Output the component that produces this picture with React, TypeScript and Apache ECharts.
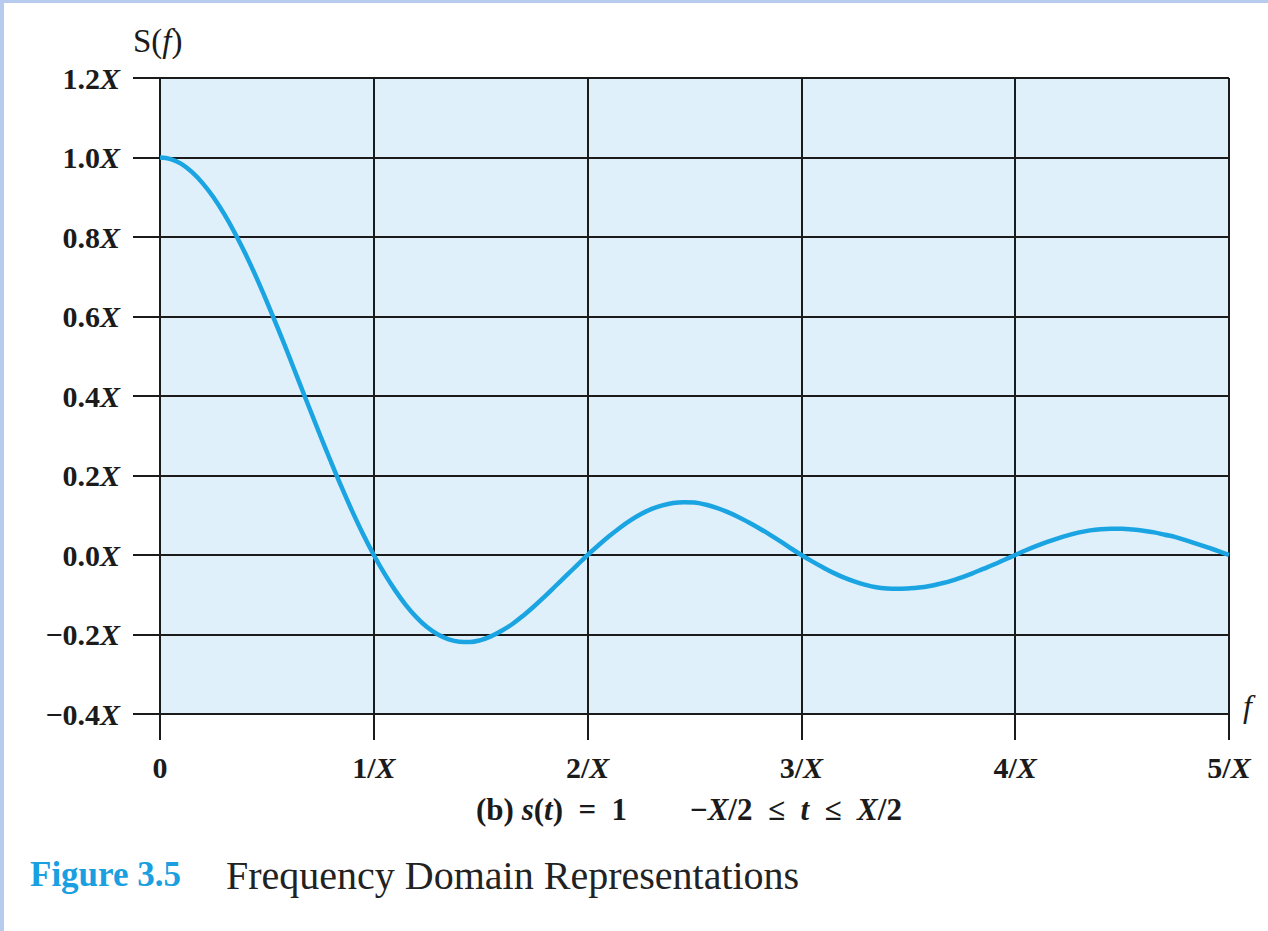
import React, { useEffect, useRef } from "react";
import * as echarts from "echarts";

const freq = [
  0.0, 0.05, 0.1, 0.15, 0.2, 0.25, 0.3, 0.35, 0.4, 0.45,
  0.5, 0.55, 0.6, 0.65, 0.7, 0.75, 0.8, 0.85, 0.9, 0.95,
  1.0, 1.05, 1.1, 1.15, 1.2, 1.25, 1.3, 1.35, 1.4, 1.45,
  1.5, 1.55, 1.6, 1.65, 1.7, 1.75, 1.8, 1.85, 1.9, 1.95,
  2.0, 2.05, 2.1, 2.15, 2.2, 2.25, 2.3, 2.35, 2.4, 2.45,
  2.5, 2.55, 2.6, 2.65, 2.7, 2.75, 2.8, 2.85, 2.9, 2.95,
  3.0, 3.05, 3.1, 3.15, 3.2, 3.25, 3.3, 3.35, 3.4, 3.45,
  3.5, 3.55, 3.6, 3.65, 3.7, 3.75, 3.8, 3.85, 3.9, 3.95,
  4.0, 4.05, 4.1, 4.15, 4.2, 4.25, 4.3, 4.35, 4.4, 4.45,
  4.5, 4.55, 4.6, 4.65, 4.7, 4.75, 4.8, 4.85, 4.9, 4.95, 5.0,
];
const amplitude = [
  1.0, 0.996, 0.984, 0.963, 0.935, 0.9, 0.858, 0.81, 0.757, 0.699,
  0.637, 0.572, 0.505, 0.436, 0.368, 0.3, 0.234, 0.17, 0.109, 0.052,
  0.0, -0.047, -0.089, -0.126, -0.157, -0.182, -0.2, -0.212, -0.218, -0.219,
  -0.214, -0.204, -0.19, -0.173, -0.152, -0.129, -0.104, -0.078, -0.052, -0.026,
  0.0, 0.024, 0.047, 0.068, 0.087, 0.103, 0.116, 0.125, 0.131, 0.133,
  0.132, 0.127, 0.119, 0.109, 0.097, 0.083, 0.068, 0.052, 0.035, 0.017,
  0.0, -0.016, -0.031, -0.045, -0.057, -0.067, -0.075, -0.081, -0.084, -0.085,
  -0.084, -0.082, -0.078, -0.072, -0.065, -0.056, -0.046, -0.035, -0.024, -0.012,
  0.0, 0.012, 0.023, 0.033, 0.042, 0.05, 0.057, 0.062, 0.065, 0.066,
  0.066, 0.064, 0.061, 0.057, 0.051, 0.045, 0.037, 0.028, 0.019, 0.01, 0.0,
];
const yTicks = [-0.4, -0.2, 0.0, 0.2, 0.4, 0.6, 0.8, 1.0, 1.2];
const xTicks = [0, 1, 2, 3, 4, 5];

const SERIF = "'Liberation Serif', 'DejaVu Serif', serif";
const INK = "#1b1b1b";
const CURVE = "#1ba4e2";

export default function App() {
  const ref = useRef<HTMLDivElement>(null);
  useEffect(() => {
    document.body.style.margin = "0";
    const chart = echarts.init(ref.current!, null, { renderer: "svg" });
    const lblRich = {
      n: { fontFamily: SERIF, fontWeight: "bold", fontSize: 30, color: INK },
      x: { fontFamily: SERIF, fontWeight: "bold", fontStyle: "italic", fontSize: 30, color: INK },
    };
    const capRich = {
      b: { fontFamily: SERIF, fontWeight: "bold", fontSize: 31, fill: INK },
      i: { fontFamily: SERIF, fontWeight: "bold", fontStyle: "italic", fontSize: 31, fill: INK },
    };
    chart.setOption({
      animation: false,
      backgroundColor: "#ffffff",
      grid: {
        left: 160,
        right: 39,
        top: 78,
        bottom: 217,
        show: true,
        backgroundColor: "#dff0fb",
        borderWidth: 0,
      },
      xAxis: {
        type: "value",
        min: xTicks[0],
        max: xTicks[xTicks.length - 1],
        interval: 1,
        axisLine: { show: true, onZero: false, lineStyle: { color: INK, width: 2 } },
        axisTick: { show: true, inside: false, length: 26, lineStyle: { color: INK, width: 2 } },
        splitLine: { show: true, lineStyle: { color: INK, width: 2 } },
        axisLabel: {
          margin: 38,
          formatter: (v: number) => (v === 0 ? "{n|0}" : `{n|${Math.round(v)}/}{x|X}`),
          rich: lblRich,
        },
      },
      yAxis: {
        type: "value",
        min: yTicks[0],
        max: yTicks[yTicks.length - 1],
        interval: 0.2,
        axisLine: { show: true, onZero: false, lineStyle: { color: INK, width: 2 } },
        axisTick: { show: true, inside: false, length: 27, lineStyle: { color: INK, width: 2 } },
        splitLine: { show: true, lineStyle: { color: INK, width: 2 } },
        axisLabel: {
          margin: 40,
          formatter: (v: number) => {
            const s = Math.abs(v).toFixed(1);
            const sign = v < -1e-9 ? "\u2212" : "";
            return `{n|${sign}${s}}{x|X}`;
          },
          rich: lblRich,
        },
      },
      series: [
        {
          type: "line",
          data: freq.map((f, i) => [f, amplitude[i]]),
          smooth: 0.4,
          showSymbol: false,
          lineStyle: { color: CURVE, width: 4.5 },
          z: 5,
        },
      ],
      graphic: [
        { type: "rect", shape: { x: 0, y: 0, width: 1268, height: 3 }, style: { fill: "#b7cbee" } },
        { type: "rect", shape: { x: 0, y: 0, width: 4, height: 931 }, style: { fill: "#b7cbee" } },
        {
          type: "text",
          left: 133,
          top: 24,
          style: {
            text: "{a|S(}{b|f}{a|)}",
            rich: {
              a: { fontFamily: SERIF, fontSize: 33, fill: INK },
              b: { fontFamily: SERIF, fontSize: 33, fontStyle: "italic", fill: INK },
            },
          },
        },
        {
          type: "text",
          left: 1243,
          top: 690,
          style: { text: "f", font: `italic 32px ${SERIF}`, fill: INK },
        },
        {
          type: "text",
          left: 476,
          top: 794,
          style: {
            text: "{b|(b) }{i|s}{b|(}{i|t}{b|)  =  1}",
            rich: capRich,
          },
        },
        {
          type: "text",
          left: 690,
          top: 794,
          style: {
            text: "{b|\u2212}{i|X}{b|/2  \u2264  }{i|t}{b|  \u2264  }{i|X}{b|/2}",
            rich: capRich,
          },
        },
        {
          type: "text",
          left: 30,
          top: 857,
          style: { text: "Figure 3.5", font: `bold 35px ${SERIF}`, fill: "#1a9fe0" },
        },
        {
          type: "text",
          left: 226,
          top: 855,
          style: { text: "Frequency Domain Representations", font: `40px ${SERIF}`, fill: "#222222" },
        },
      ],
    });
    return () => chart.dispose();
  }, []);
  return <div ref={ref} style={{ width: 1268, height: 931 }} />;
}
